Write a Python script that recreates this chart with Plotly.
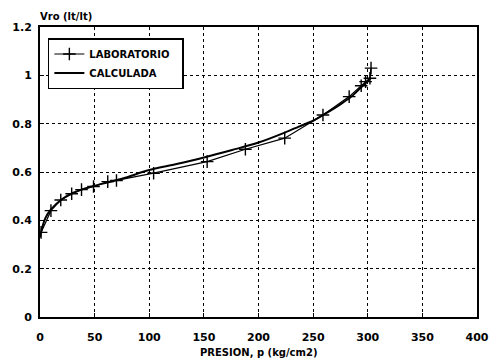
import plotly.graph_objects as go

# Laboratory measurements
lab_p = [1, 10, 19, 29, 38, 49, 62, 70, 104, 153, 188, 224, 259, 283, 294, 298, 302, 303]
lab_v = [0.35, 0.44, 0.484, 0.51, 0.527, 0.54, 0.56, 0.565, 0.595, 0.643, 0.694, 0.74,
         0.836, 0.912, 0.957, 0.974, 0.988, 1.03]

# Calculated curve
calc_p = [0, 2, 5, 10, 20, 30, 40, 50, 75, 100, 125, 150, 175, 200, 225, 237, 250, 260,
          275, 285, 295, 303]
calc_v = [0.33, 0.37, 0.41, 0.445, 0.487, 0.513, 0.53, 0.543, 0.572, 0.608, 0.633, 0.66,
          0.69, 0.722, 0.765, 0.788, 0.812, 0.838, 0.88, 0.912, 0.955, 0.99]

x_ticks = [0, 50, 100, 150, 200, 250, 300, 350, 400]
y_ticks = [0, 0.2, 0.4, 0.6, 0.8, 1, 1.2]
y_tick_text = ["0", "0.2", "0.4", "0.6", "0.8", "1", "1.2"]

FONT = "DejaVu Sans"

fig = go.Figure()
fig.add_trace(go.Scatter(
    x=lab_p, y=lab_v, name="LABORATORIO\u00a0\u00a0", mode="lines+markers",
    line=dict(color="black", width=1.2),
    marker=dict(symbol="cross-thin", size=9, line=dict(color="black", width=1.4)),
))
fig.add_trace(go.Scatter(
    x=calc_p, y=calc_v, name="CALCULADA", mode="lines",
    line=dict(color="black", width=2, shape="spline"),
))

axis_common = dict(
    showline=True, mirror=True, linecolor="black", linewidth=2,
    showgrid=True, gridcolor="black", gridwidth=1, griddash="dot",
    ticks="inside", ticklen=4, tickcolor="black", zeroline=False,
    tickfont=dict(family=FONT, size=11, color="black", weight="bold"),
)

fig.update_layout(
    width=501, height=361,
    margin=dict(l=37, r=15, t=27, b=44),
    paper_bgcolor="white", plot_bgcolor="white",
    font=dict(family=FONT, color="black"),
    xaxis=dict(range=[0, 400], tickvals=x_ticks, ticklabelstandoff=9, **axis_common),
    yaxis=dict(range=[0, 1.2], tickvals=y_ticks, ticktext=y_tick_text,
               ticklabelstandoff=4, **axis_common),
    legend=dict(
        x=0.018, y=0.962, xanchor="left", yanchor="top",
        bgcolor="white", bordercolor="black", borderwidth=1.5,
        font=dict(family=FONT, size=10, color="black", weight="bold"),
        tracegroupgap=0,
    ),
    showlegend=True,
    annotations=[
        dict(text="Vro (lt/lt)", xref="paper", yref="paper", x=-0.005, y=1.036,
             xanchor="left", yanchor="middle", showarrow=False,
             font=dict(family=FONT, size=10, color="black", weight="bold")),
        dict(text="PRESION, p (kg/cm2)", xref="paper", yref="paper", x=0.5, y=-0.124,
             xanchor="center", yanchor="middle", showarrow=False,
             font=dict(family=FONT, size=10, color="black", weight="bold")),
    ],
)

fig.write_html("out.html")
